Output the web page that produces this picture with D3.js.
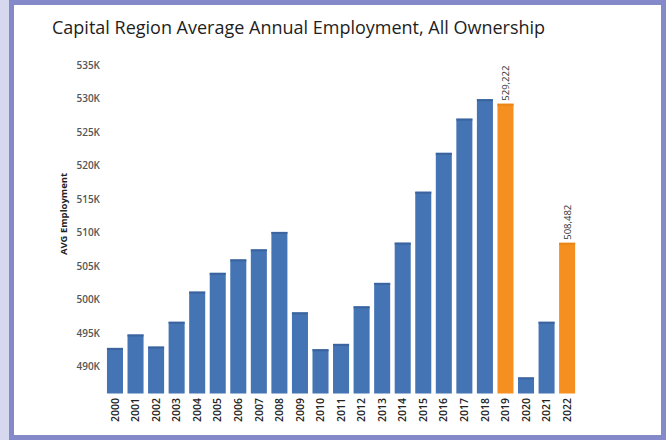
<!DOCTYPE html>
<html><head><meta charset="utf-8">
<script src="https://cdn.jsdelivr.net/npm/d3@7"></script>
<style>html,body{margin:0;padding:0;background:#d6d8ef;}svg{display:block;}</style>
</head><body>
<svg id="c" width="666" height="440"></svg>
<script>
const years = ["2000","2001","2002","2003","2004","2005","2006","2007","2008","2009","2010","2011","2012","2013","2014","2015","2016","2017","2018","2019","2020","2021","2022"];
const employment = [492800,494800,493000,496700,501200,504000,506000,507500,510100,498100,492600,493400,499000,502500,508500,516100,521900,527000,529900,529222,488400,496700,508482];
const highlighted = ["2019","2022"];
const yTicks = [490000,495000,500000,505000,510000,515000,520000,525000,530000,535000];
const title = "Capital Region Average Annual Employment, All Ownership";
const yTitle = "AVG Employment";

const svg = d3.select("#c");
// frame
svg.append("rect").attr("x",0).attr("y",0).attr("width",666).attr("height",440).attr("fill","#d6d8ef");
svg.append("rect").attr("x",11.5).attr("y",2.5).attr("width",652).attr("height",435).attr("fill","#ffffff").attr("stroke","#8389c9").attr("stroke-width",5);

svg.append("text").attr("x",52).attr("y",34).text(title)
  .attr("font-family","Open Sans").attr("font-size",18).attr("font-weight",500).attr("fill","#1e1e1e");

const x = d3.scaleBand().domain(years).range([104.7,577.4]).paddingInner(0.22).paddingOuter(0.11);
const y = d3.scaleLinear().domain([486000,535000]).range([393.5,65]);

const g = svg.append("g");
g.selectAll("rect.bar").data(years).enter().append("rect")
  .attr("x",d=>x(d)).attr("width",x.bandwidth())
  .attr("y",(d,i)=>y(employment[i])).attr("height",(d,i)=>y(486000)-y(employment[i]))
  .attr("fill",d=>highlighted.includes(d)?"#f59020":"#4474b4");
g.selectAll("rect.topl").data(years).enter().append("rect")
  .attr("x",d=>x(d)).attr("width",x.bandwidth())
  .attr("y",(d,i)=>y(employment[i])).attr("height",2)
  .attr("fill",d=>highlighted.includes(d)?"#e98616":"#3b649e");

// value labels
g.selectAll("text.val").data(years.filter(d=>highlighted.includes(d))).enter().append("text")
  .attr("transform",d=>`translate(${x(d)+x.bandwidth()/2+3.5},${y(employment[years.indexOf(d)])-3}) rotate(-90)`)
  .text(d=>d3.format(",")(employment[years.indexOf(d)]))
  .attr("font-family","Open Sans").attr("font-size",9.5).attr("fill","#333");

// y axis
const ya = d3.axisLeft(y).tickValues(yTicks).tickSize(0).tickPadding(0).tickFormat(d=>d3.format("d")(d/1000)+"K");
const yg = svg.append("g").attr("transform","translate(100,0)").call(ya);
yg.select(".domain").remove();
yg.selectAll("text").attr("font-family","Open Sans").attr("font-size",10).attr("fill","#555").attr("font-weight",600);

// x axis
const xa = d3.axisBottom(x).tickSize(0).tickPadding(0);
const xg = svg.append("g").attr("transform","translate(0,397)").call(xa);
xg.select(".domain").remove();
xg.selectAll("text").attr("transform","rotate(-90)").attr("text-anchor","end")
  .attr("x",-1).attr("y",0).attr("dy","0.35em")
  .attr("font-family","Open Sans").attr("font-size",10.5).attr("fill","#222").attr("font-weight",600);

svg.append("text").attr("transform","translate(67,214) rotate(-90)").attr("text-anchor","middle")
  .text(yTitle).attr("font-family","Open Sans").attr("font-size",9.5).attr("font-weight",700).attr("fill","#222");
</script>
</body></html>
